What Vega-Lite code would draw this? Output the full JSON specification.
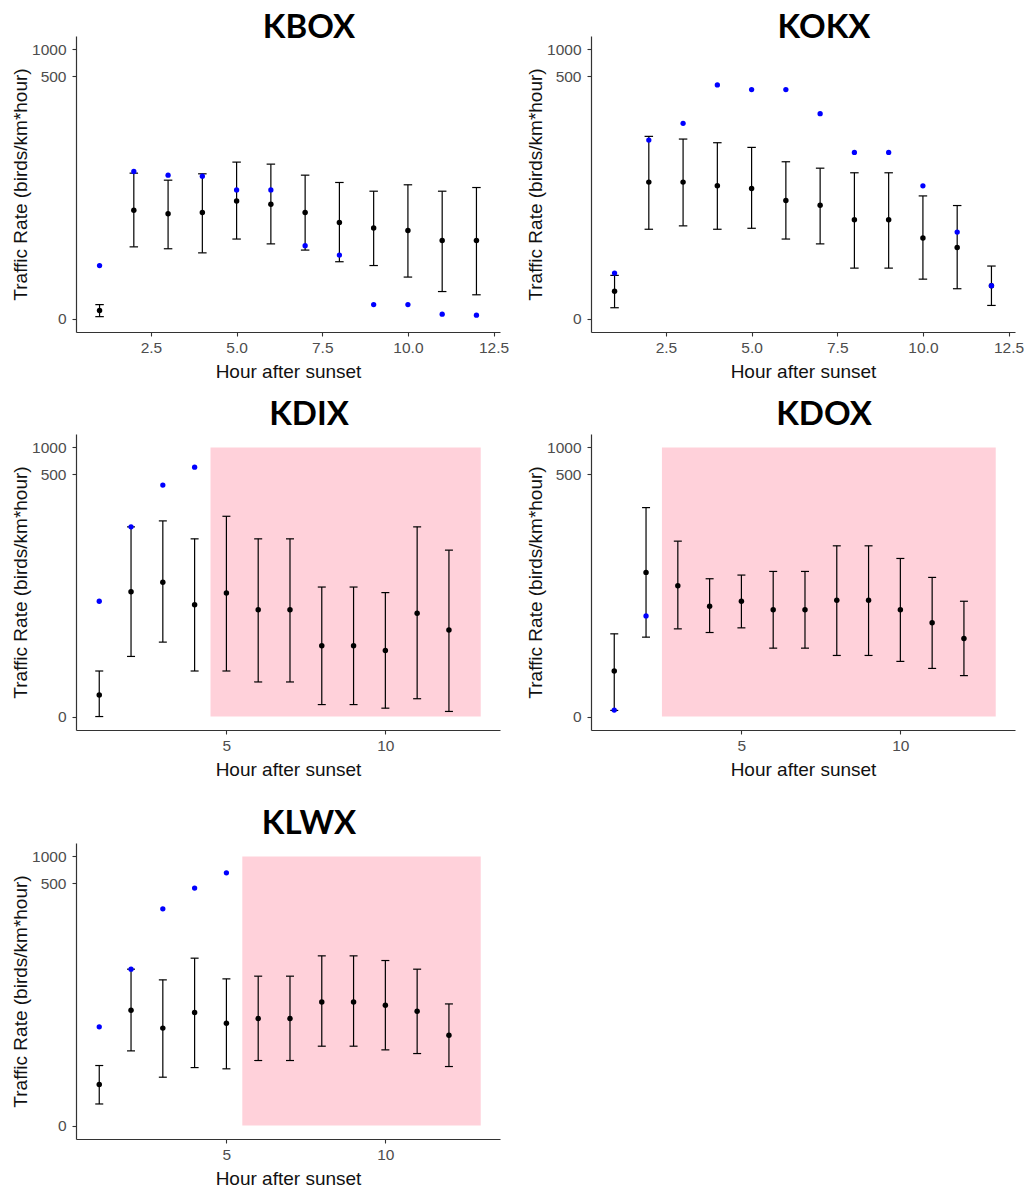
{
  "$schema": "https://vega.github.io/schema/vega-lite/v6.json",
  "background": "white",
  "padding": {"left": 11, "top": 12, "right": 5, "bottom": 5},
  "datasets": {
    "pts": [
      {"station": "KBOX", "hour": 1, "mean": 0.23, "lower": 0.05, "upper": 0.43, "blue": 2.9},
      {"station": "KBOX", "hour": 2, "mean": 15.1, "lower": 5.3, "upper": 40.8, "blue": 42.6},
      {"station": "KBOX", "hour": 3, "mean": 13.7, "lower": 5.0, "upper": 33.9, "blue": 38.7},
      {"station": "KBOX", "hour": 4, "mean": 14.2, "lower": 4.4, "upper": 40.1, "blue": 37.7},
      {"station": "KBOX", "hour": 5, "mean": 19.5, "lower": 6.7, "upper": 54.5, "blue": 26.2},
      {"station": "KBOX", "hour": 6, "mean": 17.8, "lower": 5.8, "upper": 51.7, "blue": 26.2},
      {"station": "KBOX", "hour": 7, "mean": 14.2, "lower": 4.8, "upper": 38.7, "blue": 5.5},
      {"station": "KBOX", "hour": 8, "mean": 10.8, "lower": 3.3, "upper": 31.9, "blue": 4.1},
      {"station": "KBOX", "hour": 9, "mean": 9.2, "lower": 2.9, "upper": 25.3, "blue": 0.43},
      {"station": "KBOX", "hour": 10, "mean": 8.6, "lower": 1.9, "upper": 30.0, "blue": 0.43},
      {"station": "KBOX", "hour": 11, "mean": 6.4, "lower": 1.0, "upper": 25.3, "blue": 0.12},
      {"station": "KBOX", "hour": 12, "mean": 6.4, "lower": 0.84, "upper": 27.9, "blue": 0.09},
      {"station": "KOKX", "hour": 1, "mean": 1.02, "lower": 0.32, "upper": 2.03, "blue": 2.21},
      {"station": "KOKX", "hour": 2, "mean": 32.2, "lower": 8.9, "upper": 106.5, "blue": 96.8},
      {"station": "KOKX", "hour": 3, "mean": 32.2, "lower": 9.8, "upper": 99.3, "blue": 149.2},
      {"station": "KOKX", "hour": 4, "mean": 29.2, "lower": 8.9, "upper": 90.3, "blue": 402},
      {"station": "KOKX", "hour": 5, "mean": 27.2, "lower": 9.15, "upper": 80.0, "blue": 356},
      {"station": "KOKX", "hour": 6, "mean": 19.7, "lower": 6.7, "upper": 55.0, "blue": 356},
      {"station": "KOKX", "hour": 7, "mean": 17.3, "lower": 5.8, "upper": 46.5, "blue": 191.7},
      {"station": "KOKX", "hour": 8, "mean": 11.6, "lower": 2.65, "upper": 41.2, "blue": 70.2},
      {"station": "KOKX", "hour": 9, "mean": 11.6, "lower": 2.65, "upper": 41.2, "blue": 70.2},
      {"station": "KOKX", "hour": 10, "mean": 6.9, "lower": 1.75, "upper": 22.3, "blue": 29.2},
      {"station": "KOKX", "hour": 11, "mean": 5.2, "lower": 1.15, "upper": 17.2, "blue": 8.2},
      {"station": "KOKX", "hour": 12, "mean": 1.32, "lower": 0.4, "upper": 2.85, "blue": 1.32},
      {"station": "KDIX", "hour": 1, "mean": 0.74, "lower": 0, "upper": 2.22, "blue": 18.3},
      {"station": "KDIX", "hour": 2, "mean": 23.7, "lower": 3.68, "upper": 129.3, "blue": 129.3},
      {"station": "KDIX", "hour": 3, "mean": 30.4, "lower": 5.76, "upper": 150.9, "blue": 380},
      {"station": "KDIX", "hour": 4, "mean": 16.6, "lower": 2.22, "upper": 94.8, "blue": 603},
      {"station": "KDIX", "hour": 5, "mean": 22.9, "lower": 2.22, "upper": 170, "blue": null},
      {"station": "KDIX", "hour": 6, "mean": 14.5, "lower": 1.43, "upper": 94.8, "blue": null},
      {"station": "KDIX", "hour": 7, "mean": 14.5, "lower": 1.43, "upper": 94.8, "blue": null},
      {"station": "KDIX", "hour": 8, "mean": 5.15, "lower": 0.36, "upper": 26.8, "blue": null},
      {"station": "KDIX", "hour": 9, "mean": 5.15, "lower": 0.36, "upper": 26.8, "blue": null},
      {"station": "KDIX", "hour": 10, "mean": 4.46, "lower": 0.24, "upper": 23.1, "blue": null},
      {"station": "KDIX", "hour": 11, "mean": 13.2, "lower": 0.58, "upper": 129.3, "blue": null},
      {"station": "KDIX", "hour": 12, "mean": 8.2, "lower": 0.14, "upper": 70.7, "blue": null},
      {"station": "KDOX", "hour": 1, "mean": 2.22, "lower": 0.17, "upper": 7.36, "blue": 0.18},
      {"station": "KDOX", "hour": 2, "mean": 39.5, "lower": 6.68, "upper": 212.6, "blue": 12.25},
      {"station": "KDOX", "hour": 3, "mean": 27.8, "lower": 8.5, "upper": 89.3, "blue": null},
      {"station": "KDOX", "hour": 4, "mean": 16.0, "lower": 7.65, "upper": 33.4, "blue": null},
      {"station": "KDOX", "hour": 5, "mean": 18.3, "lower": 8.75, "upper": 36.8, "blue": null},
      {"station": "KDOX", "hour": 6, "mean": 14.5, "lower": 4.79, "upper": 40.5, "blue": null},
      {"station": "KDOX", "hour": 7, "mean": 14.5, "lower": 4.79, "upper": 40.5, "blue": null},
      {"station": "KDOX", "hour": 8, "mean": 18.8, "lower": 3.8, "upper": 79.1, "blue": null},
      {"station": "KDOX", "hour": 9, "mean": 18.8, "lower": 3.8, "upper": 79.1, "blue": null},
      {"station": "KDOX", "hour": 10, "mean": 14.5, "lower": 3.12, "upper": 56.9, "blue": null},
      {"station": "KDOX", "hour": 11, "mean": 10.1, "lower": 2.44, "upper": 34.6, "blue": null},
      {"station": "KDOX", "hour": 12, "mean": 6.4, "lower": 1.86, "upper": 18.3, "blue": null},
      {"station": "KLWX", "hour": 1, "mean": 1.87, "lower": 0.74, "upper": 3.67, "blue": 11.6},
      {"station": "KLWX", "hour": 2, "mean": 18.3, "lower": 5.8, "upper": 54.4, "blue": 54.4},
      {"station": "KLWX", "hour": 3, "mean": 11.2, "lower": 2.46, "upper": 41.1, "blue": 260},
      {"station": "KLWX", "hour": 4, "mean": 17.2, "lower": 3.43, "upper": 72.5, "blue": 443},
      {"station": "KLWX", "hour": 5, "mean": 12.85, "lower": 3.29, "upper": 42.2, "blue": 656},
      {"station": "KLWX", "hour": 6, "mean": 14.6, "lower": 4.31, "upper": 45.3, "blue": null},
      {"station": "KLWX", "hour": 7, "mean": 14.6, "lower": 4.31, "upper": 45.3, "blue": null},
      {"station": "KLWX", "hour": 8, "mean": 22.9, "lower": 6.67, "upper": 77.0, "blue": null},
      {"station": "KLWX", "hour": 9, "mean": 22.9, "lower": 6.67, "upper": 77.0, "blue": null},
      {"station": "KLWX", "hour": 10, "mean": 21.0, "lower": 5.98, "upper": 68.2, "blue": null},
      {"station": "KLWX", "hour": 11, "mean": 17.8, "lower": 5.35, "upper": 54.4, "blue": null},
      {"station": "KLWX", "hour": 12, "mean": 9.17, "lower": 3.55, "upper": 21.7, "blue": null}
    ],
    "shade": [
      {"station": "KDIX", "xmin": 4.5, "xmax": 13, "ymin": 0, "ymax": 1000},
      {"station": "KDOX", "xmin": 2.5, "xmax": 13, "ymin": 0, "ymax": 1000},
      {"station": "KLWX", "xmin": 5.5, "xmax": 13, "ymin": 0, "ymax": 1000}
    ]
  },
  "config": {
    "font": "Liberation Sans",
    "view": {"stroke": null},
    "axis": {
      "grid": false,
      "domainColor": "#333333",
      "domainWidth": 1.2,
      "tickColor": "#333333",
      "tickSize": 4,
      "tickWidth": 1.1,
      "labelColor": "#4D4D4D",
      "labelFontSize": 15.5,
      "labelFont": "Liberation Sans",
      "titleFont": "Liberation Sans",
      "titleFontSize": 19,
      "titleFontWeight": "normal",
      "titleColor": "#111111"
    },
    "axisX": {"titlePadding": 7, "labelPadding": 4},
    "axisY": {"titlePadding": 1, "labelPadding": 6},
    "title": {"font": "Lato", "fontSize": 33, "fontWeight": "bold", "color": "black", "anchor": "middle", "dx": 21, "offset": 2}
  },
  "spacing": 28,
  "vconcat": [
    {
      "spacing": 17,
      "vconcat": [
        {
          "bounds": "flush",
          "spacing": 91,
          "hconcat": [
            {
              "width": 424, "height": 296,
              "title": {"text": "KBOX", "offset": -9},
              "data": {"name": "pts"},
              "transform": [{"filter": "datum.station === 'KBOX'"}],
              "encoding": {
                "x": {"field": "hour", "type": "quantitative", "title": "Hour after sunset",
                      "scale": {"domain": [0.3125, 12.6875], "nice": false, "zero": false},
                      "axis": {"values": [2.5, 5, 7.5, 10, 12.5], "format": ".1f"}}
              },
              "layer": [
                {"mark": {"type": "rule", "color": "black", "strokeWidth": 1.2},
                 "encoding": {"y": {"field": "lower", "type": "quantitative", "title": "Traffic Rate (birds/km*hour)",
                   "scale": {"type": "symlog", "constant": 1, "domain": [-0.4125, 1413], "nice": false, "zero": false},
                   "axis": {"values": [0, 500, 1000], "format": "d"}}, "y2": {"field": "upper"}}},
                {"mark": {"type": "tick", "orient": "horizontal", "size": 8.5, "thickness": 1.2, "color": "black", "opacity": 1},
                 "encoding": {"y": {"field": "upper", "type": "quantitative"}}},
                {"mark": {"type": "tick", "orient": "horizontal", "size": 8.5, "thickness": 1.2, "color": "black", "opacity": 1},
                 "encoding": {"y": {"field": "lower", "type": "quantitative"}}},
                {"mark": {"type": "circle", "color": "black", "size": 30, "opacity": 1},
                 "encoding": {"y": {"field": "mean", "type": "quantitative"}}},
                {"transform": [{"filter": "isValid(datum.blue)"}],
                 "mark": {"type": "circle", "color": "#0000FF", "size": 28, "opacity": 1},
                 "encoding": {"y": {"field": "blue", "type": "quantitative"}}}
              ]
            },
            {
              "width": 424, "height": 296,
              "title": {"text": "KOKX", "offset": -9},
              "data": {"name": "pts"},
              "transform": [{"filter": "datum.station === 'KOKX'"}],
              "encoding": {
                "x": {"field": "hour", "type": "quantitative", "title": "Hour after sunset",
                      "scale": {"domain": [0.3125, 12.6875], "nice": false, "zero": false},
                      "axis": {"values": [2.5, 5, 7.5, 10, 12.5], "format": ".1f"}}
              },
              "layer": [
                {"mark": {"type": "rule", "color": "black", "strokeWidth": 1.2},
                 "encoding": {"y": {"field": "lower", "type": "quantitative", "title": "Traffic Rate (birds/km*hour)",
                   "scale": {"type": "symlog", "constant": 1, "domain": [-0.4125, 1413], "nice": false, "zero": false},
                   "axis": {"values": [0, 500, 1000], "format": "d"}}, "y2": {"field": "upper"}}},
                {"mark": {"type": "tick", "orient": "horizontal", "size": 8.5, "thickness": 1.2, "color": "black", "opacity": 1},
                 "encoding": {"y": {"field": "upper", "type": "quantitative"}}},
                {"mark": {"type": "tick", "orient": "horizontal", "size": 8.5, "thickness": 1.2, "color": "black", "opacity": 1},
                 "encoding": {"y": {"field": "lower", "type": "quantitative"}}},
                {"mark": {"type": "circle", "color": "black", "size": 30, "opacity": 1},
                 "encoding": {"y": {"field": "mean", "type": "quantitative"}}},
                {"transform": [{"filter": "isValid(datum.blue)"}],
                 "mark": {"type": "circle", "color": "#0000FF", "size": 28, "opacity": 1},
                 "encoding": {"y": {"field": "blue", "type": "quantitative"}}}
              ]
            }
          ]
        },
        {
          "bounds": "flush",
          "spacing": 91,
          "hconcat": [
            {
              "width": 424, "height": 296,
              "title": "KDIX",
              "layer": [
                {"data": {"name": "shade"},
                 "transform": [{"filter": "datum.station === 'KDIX'"}],
                 "mark": {"type": "rect", "color": "#FFD1DA", "opacity": 1},
                 "encoding": {
                   "x": {"field": "xmin", "type": "quantitative", "title": "Hour after sunset",
                         "scale": {"domain": [0.26875, 13.60625], "nice": false, "zero": false},
                         "axis": {"values": [5, 10], "format": "d"}},
                   "x2": {"field": "xmax"},
                   "y": {"field": "ymin", "type": "quantitative", "title": "Traffic Rate (birds/km*hour)",
                         "scale": {"type": "symlog", "constant": 1, "domain": [-0.4125, 1413], "nice": false, "zero": false},
                         "axis": {"values": [0, 500, 1000], "format": "d"}},
                   "y2": {"field": "ymax"}}},
                {"data": {"name": "pts"},
                 "transform": [{"filter": "datum.station === 'KDIX'"}],
                 "encoding": {"x": {"field": "hour", "type": "quantitative", "title": "Hour after sunset"}},
                 "layer": [
                   {"mark": {"type": "rule", "color": "black", "strokeWidth": 1.2},
                    "encoding": {"y": {"field": "lower", "type": "quantitative", "title": "Traffic Rate (birds/km*hour)"}, "y2": {"field": "upper"}}},
                   {"mark": {"type": "tick", "orient": "horizontal", "size": 8, "thickness": 1.2, "color": "black", "opacity": 1},
                    "encoding": {"y": {"field": "upper", "type": "quantitative"}}},
                   {"mark": {"type": "tick", "orient": "horizontal", "size": 8, "thickness": 1.2, "color": "black", "opacity": 1},
                    "encoding": {"y": {"field": "lower", "type": "quantitative"}}},
                   {"mark": {"type": "circle", "color": "black", "size": 30, "opacity": 1},
                    "encoding": {"y": {"field": "mean", "type": "quantitative"}}},
                   {"transform": [{"filter": "isValid(datum.blue)"}],
                    "mark": {"type": "circle", "color": "#0000FF", "size": 28, "opacity": 1},
                    "encoding": {"y": {"field": "blue", "type": "quantitative"}}}
                 ]}
              ]
            },
            {
              "width": 424, "height": 296,
              "title": "KDOX",
              "layer": [
                {"data": {"name": "shade"},
                 "transform": [{"filter": "datum.station === 'KDOX'"}],
                 "mark": {"type": "rect", "color": "#FFD1DA", "opacity": 1},
                 "encoding": {
                   "x": {"field": "xmin", "type": "quantitative", "title": "Hour after sunset",
                         "scale": {"domain": [0.26875, 13.60625], "nice": false, "zero": false},
                         "axis": {"values": [5, 10], "format": "d"}},
                   "x2": {"field": "xmax"},
                   "y": {"field": "ymin", "type": "quantitative", "title": "Traffic Rate (birds/km*hour)",
                         "scale": {"type": "symlog", "constant": 1, "domain": [-0.4125, 1413], "nice": false, "zero": false},
                         "axis": {"values": [0, 500, 1000], "format": "d"}},
                   "y2": {"field": "ymax"}}},
                {"data": {"name": "pts"},
                 "transform": [{"filter": "datum.station === 'KDOX'"}],
                 "encoding": {"x": {"field": "hour", "type": "quantitative", "title": "Hour after sunset"}},
                 "layer": [
                   {"mark": {"type": "rule", "color": "black", "strokeWidth": 1.2},
                    "encoding": {"y": {"field": "lower", "type": "quantitative", "title": "Traffic Rate (birds/km*hour)"}, "y2": {"field": "upper"}}},
                   {"mark": {"type": "tick", "orient": "horizontal", "size": 8, "thickness": 1.2, "color": "black", "opacity": 1},
                    "encoding": {"y": {"field": "upper", "type": "quantitative"}}},
                   {"mark": {"type": "tick", "orient": "horizontal", "size": 8, "thickness": 1.2, "color": "black", "opacity": 1},
                    "encoding": {"y": {"field": "lower", "type": "quantitative"}}},
                   {"mark": {"type": "circle", "color": "black", "size": 30, "opacity": 1},
                    "encoding": {"y": {"field": "mean", "type": "quantitative"}}},
                   {"transform": [{"filter": "isValid(datum.blue)"}],
                    "mark": {"type": "circle", "color": "#0000FF", "size": 28, "opacity": 1},
                    "encoding": {"y": {"field": "blue", "type": "quantitative"}}}
                 ]}
              ]
            }
          ]
        }
      ]
    },
    {
      "bounds": "flush",
      "spacing": 91,
      "hconcat": [
        {
          "width": 424, "height": 296,
          "title": "KLWX",
          "layer": [
            {"data": {"name": "shade"},
             "transform": [{"filter": "datum.station === 'KLWX'"}],
             "mark": {"type": "rect", "color": "#FFD1DA", "opacity": 1},
             "encoding": {
               "x": {"field": "xmin", "type": "quantitative", "title": "Hour after sunset",
                     "scale": {"domain": [0.26875, 13.60625], "nice": false, "zero": false},
                     "axis": {"values": [5, 10], "format": "d"}},
               "x2": {"field": "xmax"},
               "y": {"field": "ymin", "type": "quantitative", "title": "Traffic Rate (birds/km*hour)",
                     "scale": {"type": "symlog", "constant": 1, "domain": [-0.4125, 1413], "nice": false, "zero": false},
                     "axis": {"values": [0, 500, 1000], "format": "d"}},
               "y2": {"field": "ymax"}}},
            {"data": {"name": "pts"},
             "transform": [{"filter": "datum.station === 'KLWX'"}],
             "encoding": {"x": {"field": "hour", "type": "quantitative", "title": "Hour after sunset"}},
             "layer": [
               {"mark": {"type": "rule", "color": "black", "strokeWidth": 1.2},
                "encoding": {"y": {"field": "lower", "type": "quantitative", "title": "Traffic Rate (birds/km*hour)"}, "y2": {"field": "upper"}}},
               {"mark": {"type": "tick", "orient": "horizontal", "size": 8, "thickness": 1.2, "color": "black", "opacity": 1},
                "encoding": {"y": {"field": "upper", "type": "quantitative"}}},
               {"mark": {"type": "tick", "orient": "horizontal", "size": 8, "thickness": 1.2, "color": "black", "opacity": 1},
                "encoding": {"y": {"field": "lower", "type": "quantitative"}}},
               {"mark": {"type": "circle", "color": "black", "size": 30, "opacity": 1},
                "encoding": {"y": {"field": "mean", "type": "quantitative"}}},
               {"transform": [{"filter": "isValid(datum.blue)"}],
                "mark": {"type": "circle", "color": "#0000FF", "size": 28, "opacity": 1},
                "encoding": {"y": {"field": "blue", "type": "quantitative"}}}
             ]}
          ]
        }
      ]
    }
  ]
}
